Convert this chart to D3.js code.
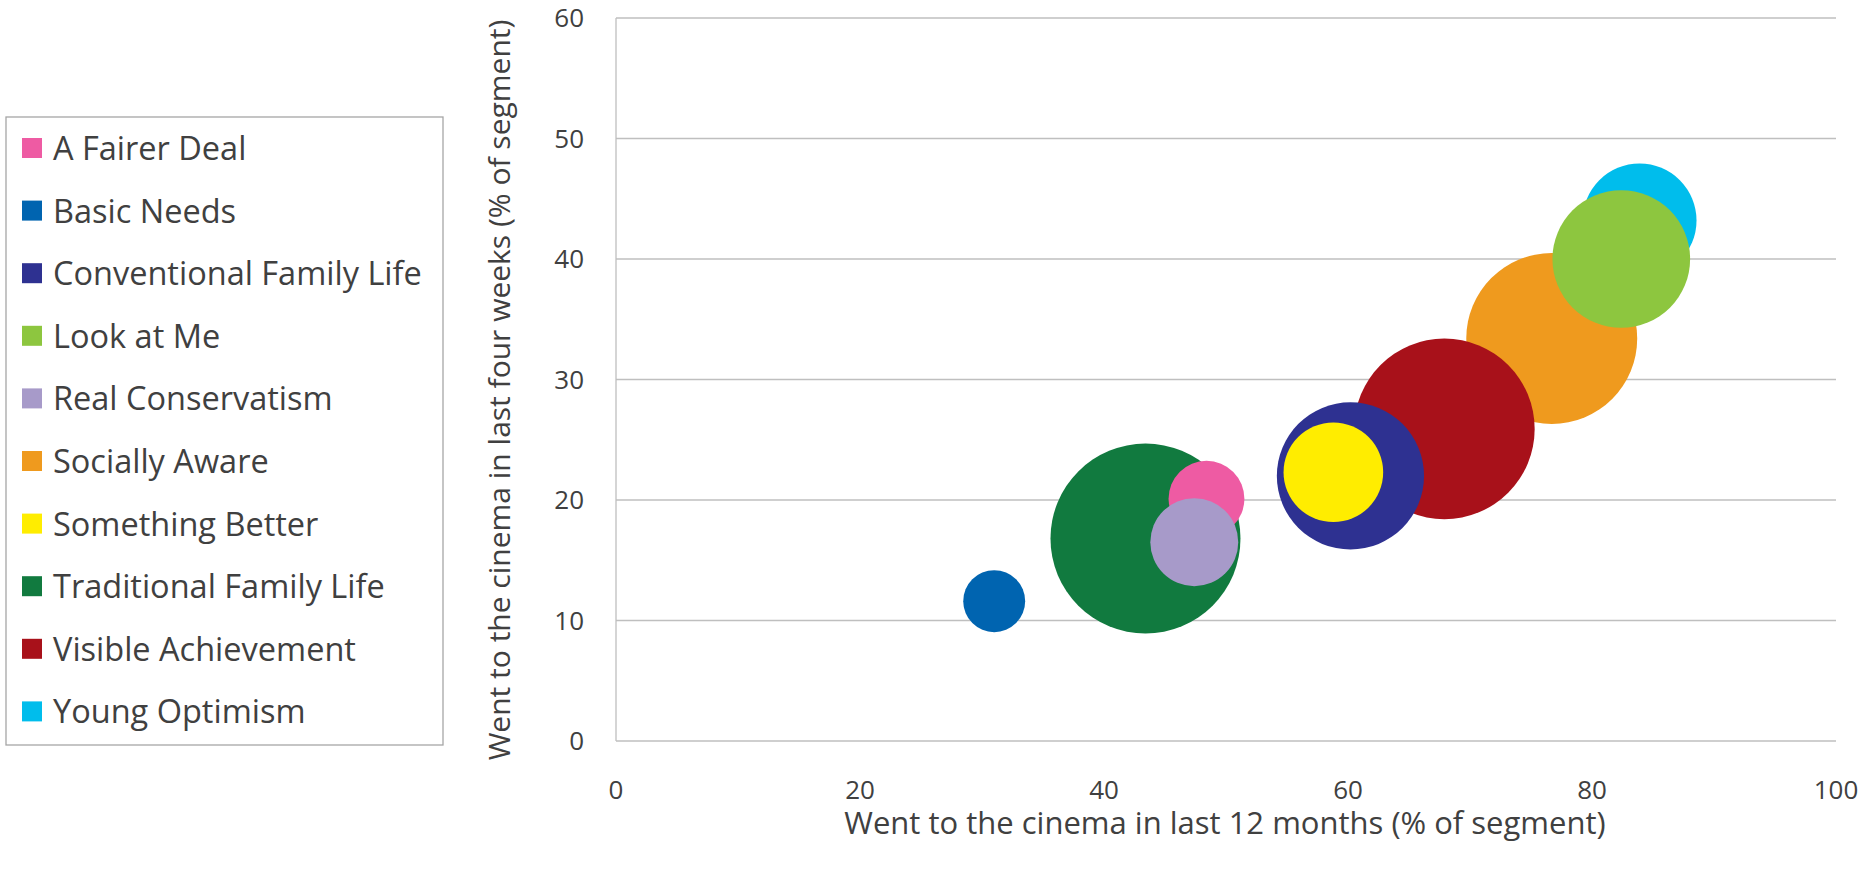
<!DOCTYPE html>
<html><head><meta charset="utf-8">
<script src="https://cdn.jsdelivr.net/npm/d3@7"></script>
<style>body{margin:0;background:#fff}text{font-family:"Open Sans",sans-serif;fill:#404040}</style>
</head><body><svg id="c" width="1869" height="882"></svg>
<script>
const names = ["A Fairer Deal","Basic Needs","Conventional Family Life","Look at Me","Real Conservatism","Socially Aware","Something Better","Traditional Family Life","Visible Achievement","Young Optimism"];
const colors = ["#ee5ba3","#0064b0","#2e3191","#8dc63f","#a79ac9","#ef9a1e","#ffed00","#117a3f","#a8111a","#00bdec"];
const xVals = [48.4,31.0,60.2,82.4,47.4,76.7,58.8,43.4,67.9,83.9];
const yVals = [20.1,11.6,22.0,40.0,16.5,33.4,22.3,16.8,25.9,43.2];
const sizes = [10.2,6.8,38.4,33.6,13.7,51.8,17.6,64,57.8,23.0];
const drawOrder = [5,8,2,6,9,3,7,0,4,1];
const xTicks = [0,20,40,60,80,100];
const yTicks = [0,10,20,30,40,50,60];

const svg = d3.select("#c");
const x = d3.scaleLinear().domain([0,100]).range([616,1836]);
const y = d3.scaleLinear().domain([0,60]).range([741,18]);
const r = d3.scaleSqrt().domain([0,64]).range([0,95]);

svg.append("g").selectAll("line").data(yTicks.slice(1)).join("line")
  .attr("x1",x(0)).attr("x2",x(100)).attr("y1",d=>y(d)).attr("y2",d=>y(d))
  .attr("stroke","#bfbfbf").attr("stroke-width",1.3);
svg.append("line").attr("x1",x(0)).attr("x2",x(0)).attr("y1",y(0)).attr("y2",y(60)).attr("stroke","#bfbfbf").attr("stroke-width",1.3);
svg.append("line").attr("x1",x(0)).attr("x2",x(100)).attr("y1",y(0)).attr("y2",y(0)).attr("stroke","#bfbfbf").attr("stroke-width",1.3);

svg.append("g").selectAll("text").data(yTicks).join("text")
  .attr("x",584).attr("y",d=>y(d)+9).attr("text-anchor","end").attr("font-size",26).text(d=>d);
svg.append("g").selectAll("text").data(xTicks).join("text")
  .attr("x",d=>x(d)).attr("y",799).attr("text-anchor","middle").attr("font-size",26).text(d=>d);

svg.append("g").selectAll("circle").data(drawOrder).join("circle")
  .attr("cx",i=>x(xVals[i])).attr("cy",i=>y(yVals[i])).attr("r",i=>r(sizes[i])).attr("fill",i=>colors[i]);

svg.append("text").attr("x",1225).attr("y",834).attr("text-anchor","middle").attr("font-size",31)
  .text("Went to the cinema in last 12 months (% of segment)");
svg.append("text").attr("transform","translate(510,390) rotate(-90)").attr("text-anchor","middle").attr("font-size",30)
  .text("Went to the cinema in last four weeks (% of segment)");

const lg = svg.append("g");
lg.append("rect").attr("x",6).attr("y",117).attr("width",437).attr("height",628).attr("fill","none").attr("stroke","#a6a6a6").attr("stroke-width",1.3);
const it = lg.selectAll("g").data(names).join("g").attr("transform",(d,i)=>`translate(0,${149+i*62.6})`);
it.append("rect").attr("x",22).attr("y",-11).attr("width",20).attr("height",20).attr("fill",(d,i)=>colors[i]);
it.append("text").attr("x",53).attr("y",11).attr("font-size",32.5).text(d=>d);
</script></body></html>
